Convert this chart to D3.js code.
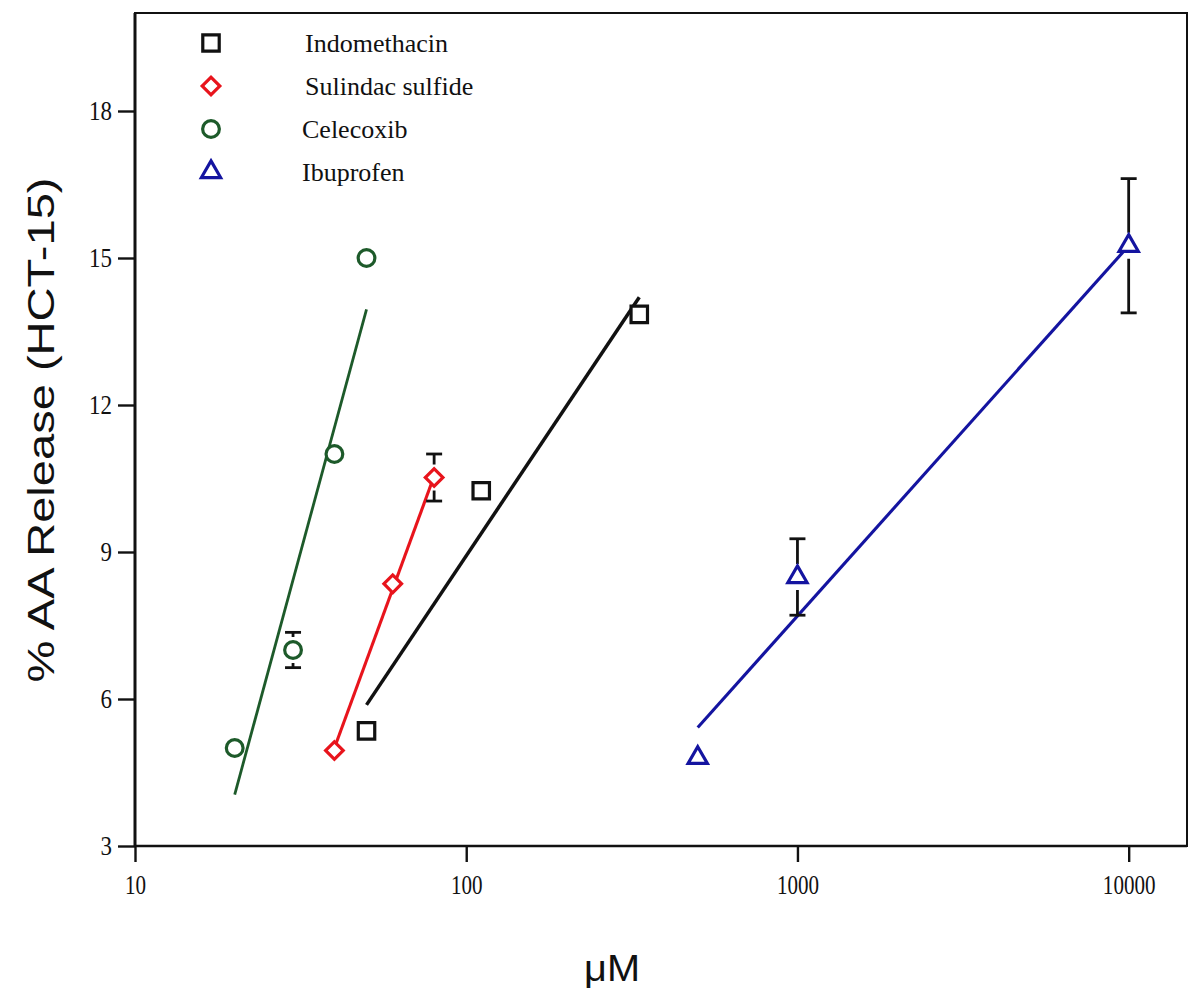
<!DOCTYPE html>
<html><head><meta charset="utf-8">
<script src="https://cdn.jsdelivr.net/npm/d3@7"></script>
<style>body{margin:0;background:#fff}</style>
</head><body><svg id="c" width="1200" height="991"></svg>
<script>
// ---- data ----
const xTicks = [10, 100, 1000, 10000];
const yTicks = [3, 6, 9, 12, 15, 18];
const seriesNames = ["Indomethacin", "Sulindac sulfide", "Celecoxib", "Ibuprofen"];

const indomethacinX = [50, 111, 333];
const indomethacinY = [5.35, 10.25, 13.85];
const indomethacinErr = [0, 0, 0];

const sulindacX = [40, 60, 80];
const sulindacY = [4.95, 8.35, 10.52];
const sulindacErr = [0, 0, 0.48];

const celecoxibX = [20, 30, 40, 50];
const celecoxibY = [5.0, 7.0, 11.0, 15.0];
const celecoxibErr = [0, 0.36, 0, 0];

const ibuprofenX = [500, 1000, 10000];
const ibuprofenY = [4.8, 8.49, 15.25];
const ibuprofenErr = [0, 0.78, 1.37];

// fitted regression lines (endpoints)
const indomethacinFitX = [50, 333], indomethacinFitY = [5.88, 14.2];
const sulindacFitX = [40, 80], sulindacFitY = [5.0, 10.55];
const celecoxibFitX = [20, 50], celecoxibFitY = [4.05, 13.95];
const ibuprofenFitX = [500, 10000], ibuprofenFitY = [5.42, 15.25];

// ---- layout / style ----
const W = 1200, H = 991;
const M = {left: 135, top: 13, right: 13, bottom: 145};
const colors = {Indo: "#111111", Sul: "#e8141c", Cel: "#1d5a2a", Ibu: "#1414a0"};

const svg = d3.select("#c");
const x = d3.scaleLog().domain([10, 15000]).range([M.left, W - M.right]);
const y = d3.scaleLinear().domain([3, 20]).range([H - M.bottom, M.top]);

const series = [
  {name: seriesNames[0], xs: indomethacinX, ys: indomethacinY, es: indomethacinErr, fx: indomethacinFitX, fy: indomethacinFitY, color: colors.Indo, shape: "square", lw: 3.5},
  {name: seriesNames[1], xs: sulindacX, ys: sulindacY, es: sulindacErr, fx: sulindacFitX, fy: sulindacFitY, color: colors.Sul, shape: "diamond", lw: 3.1},
  {name: seriesNames[2], xs: celecoxibX, ys: celecoxibY, es: celecoxibErr, fx: celecoxibFitX, fy: celecoxibFitY, color: colors.Cel, shape: "circle", lw: 2.8},
  {name: seriesNames[3], xs: ibuprofenX, ys: ibuprofenY, es: ibuprofenErr, fx: ibuprofenFitX, fy: ibuprofenFitY, color: colors.Ibu, shape: "triangle", lw: 3.1}
];

const symPath = {
  square: d3.symbol().type(d3.symbolSquare).size(270)(),
  diamond: d3.symbol().type(d3.symbolSquare).size(155)(),
  circle: d3.symbol().type(d3.symbolCircle).size(220)(),
  triangle: d3.symbol().type(d3.symbolTriangle).size(160)()
};
const symRot = {square: 0, diamond: 45, circle: 0, triangle: 0};
const markStroke = 3.2;

// axes
const serif = "'Liberation Serif', 'Times New Roman', serif";
const yAxis = svg.append("g").attr("transform", `translate(${M.left},0)`)
  .call(d3.axisLeft(y).tickValues(yTicks).tickSize(17).tickPadding(7).tickFormat(d3.format("d")));
const xAxis = svg.append("g").attr("transform", `translate(0,${H - M.bottom})`)
  .call(d3.axisBottom(x).tickValues(xTicks).tickSize(16).tickPadding(13).tickFormat(d3.format("d")));
[yAxis, xAxis].forEach(g => {
  g.select(".domain").remove();
  g.selectAll(".tick line").attr("stroke", "#111").attr("stroke-width", 2.4);
  g.selectAll(".tick text").attr("fill", "#111").style("font-family", serif);
});
yAxis.selectAll(".tick text").style("font-size", "27px").attr("transform", "scale(0.85,1)")
  .attr("x", -(17 + 6) / 0.85);
xAxis.selectAll(".tick text").style("font-size", "27px").attr("transform", "scale(0.78,1)");

// frame
svg.append("rect")
  .attr("x", M.left).attr("y", M.top)
  .attr("width", W - M.left - M.right).attr("height", H - M.top - M.bottom)
  .attr("fill", "none").attr("stroke", "#111").attr("stroke-width", 2);
svg.append("line").attr("x1", M.left).attr("x2", M.left).attr("y1", M.top).attr("y2", H - M.bottom)
  .attr("stroke", "#111").attr("stroke-width", 3);
svg.append("line").attr("x1", M.left).attr("x2", W - M.right).attr("y1", H - M.bottom).attr("y2", H - M.bottom)
  .attr("stroke", "#111").attr("stroke-width", 2.6);

// fit lines
const line = d3.line().x(d => x(d[0])).y(d => y(d[1]));
series.forEach(s => {
  svg.append("path").datum(d3.zip(s.fx, s.fy)).attr("d", line)
    .attr("fill", "none").attr("stroke", s.color).attr("stroke-width", s.lw);
});

// error bars (black, with a gap around the marker)
const gap = 13, cap = 8;
series.forEach(s => {
  const pts = d3.zip(s.xs, s.ys, s.es).filter(d => d[2] > 0);
  const g = svg.append("g").attr("stroke", "#111").attr("stroke-width", 2.8).attr("fill", "none");
  pts.forEach(([vx, vy, e]) => {
    const cx = x(vx), top = y(vy + e), bot = y(vy - e), cy = y(vy);
    if (cy - gap > top) g.append("line").attr("x1", cx).attr("x2", cx).attr("y1", top).attr("y2", cy - gap);
    if (cy + gap < bot) g.append("line").attr("x1", cx).attr("x2", cx).attr("y1", cy + gap).attr("y2", bot);
    g.append("line").attr("x1", cx - cap).attr("x2", cx + cap).attr("y1", top).attr("y2", top);
    g.append("line").attr("x1", cx - cap).attr("x2", cx + cap).attr("y1", bot).attr("y2", bot);
  });
});

// markers
series.forEach(s => {
  svg.append("g").selectAll("path").data(d3.zip(s.xs, s.ys)).join("path")
    .attr("d", symPath[s.shape])
    .attr("transform", d => `translate(${x(d[0])},${y(d[1])}) rotate(${symRot[s.shape]})`)
    .attr("fill", "#fff").attr("stroke", s.color).attr("stroke-width", markStroke);
});

// legend
const legX = 211, legTextX = 305, legY0 = 43, legDY = 43;
const leg = svg.append("g");
series.forEach((s, i) => {
  const yy = legY0 + i * legDY;
  leg.append("path").attr("d", symPath[s.shape])
    .attr("transform", `translate(${legX},${yy}) rotate(${symRot[s.shape]})`)
    .attr("fill", "#fff").attr("stroke", s.color).attr("stroke-width", markStroke);
  leg.append("text").attr("x", legTextX - (i >= 2 ? 3 : 0)).attr("y", yy)
    .attr("dominant-baseline", "central")
    .style("font-family", serif).style("font-size", "26px").attr("fill", "#111")
    .text(s.name);
});

// axis titles
const sans = "'Liberation Sans', Arial, Helvetica, sans-serif";
svg.append("text").attr("transform", "translate(41,430) rotate(-90)")
  .attr("text-anchor", "middle").attr("dominant-baseline", "central")
  .attr("textLength", 505).attr("lengthAdjust", "spacingAndGlyphs")
  .style("font-family", sans).style("font-size", "36px").attr("fill", "#111")
  .text("% AA Release (HCT-15)");
svg.append("text").attr("x", 612).attr("y", 968)
  .attr("text-anchor", "middle").attr("dominant-baseline", "central")
  .attr("textLength", 56).attr("lengthAdjust", "spacingAndGlyphs")
  .style("font-family", sans).style("font-size", "36px").attr("fill", "#111")
  .text("μM");
</script></body></html>
